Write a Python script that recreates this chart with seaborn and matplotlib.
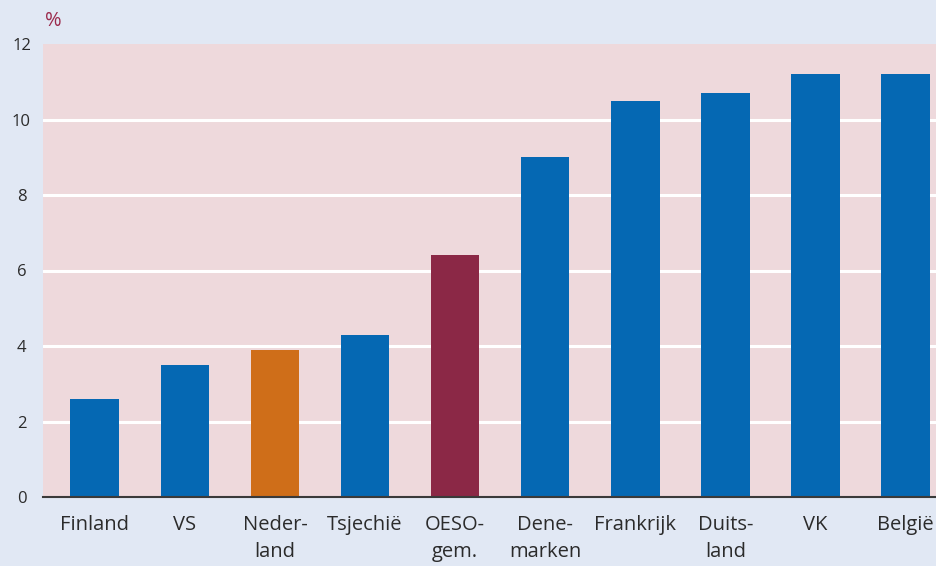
import matplotlib
matplotlib.use('Agg')
import matplotlib.pyplot as plt
import seaborn as sns
import pandas as pd

# Chart data
countries = ['Finland', 'VS', 'Neder-\nland', 'Tsjechië', 'OESO-\ngem.',
             'Dene-\nmarken', 'Frankrijk', 'Duits-\nland', 'VK', 'België']
values = [2.6, 3.5, 3.9, 4.3, 6.4, 9.0, 10.5, 10.7, 11.2, 11.2]
bar_colors = ['#0568b3', '#0568b3', '#cf6e19', '#0568b3', '#8b2846',
              '#0568b3', '#0568b3', '#0568b3', '#0568b3', '#0568b3']
y_ticks = [0, 2, 4, 6, 8, 10, 12]

df = pd.DataFrame({'land': countries, 'pct': values})

bg = '#e1e8f4'
plot_bg = '#eed9dc'
text_col = '#2b2b2b'

sns.set_style('white')
plt.rcParams['font.family'] = ['Open Sans', 'DejaVu Sans']

fig = plt.figure(figsize=(9.37, 5.66), dpi=100, facecolor=bg)
ax = fig.add_axes([43 / 937, 1 - 497 / 566, 1 - 43 / 937, (497 - 44) / 566])
ax.set_facecolor(plot_bg)

sns.barplot(data=df, x='land', y='pct', hue='land', palette=bar_colors,
            legend=False, width=0.54, saturation=1, ax=ax, zorder=3,
            edgecolor='none', linewidth=0)

ax.set_ylim(0, 12)
ax.set_xlim(-0.575, 9.35)
ax.set_yticks(y_ticks)
ax.set_yticklabels([str(t) for t in y_ticks])
for t in y_ticks[1:-1]:
    ax.axhline(t, color='white', lw=2.2, zorder=1)

for s in ['top', 'right', 'left']:
    ax.spines[s].set_visible(False)
ax.spines['bottom'].set_color('#3a3a3a')
ax.spines['bottom'].set_linewidth(1.5)
ax.spines['bottom'].set_zorder(4)

ax.tick_params(axis='y', length=0, pad=15.5, labelsize=12, labelcolor=text_col)
for lbl in ax.get_yticklabels():
    lbl.set_horizontalalignment('center')
ax.tick_params(axis='x', length=0, pad=13, labelsize=14.5, labelcolor=text_col)
for lbl in ax.get_xticklabels():
    lbl.set_linespacing(1.45)

ax.set_xlabel('')
ax.set_ylabel('')
ax.grid(False)

fig.text(45 / 937, 1 - 21 / 566, '%', color='#9b2a4c', fontsize=14.5,
         ha='left', va='center')

fig.savefig('out.png', dpi=100, facecolor=bg)
